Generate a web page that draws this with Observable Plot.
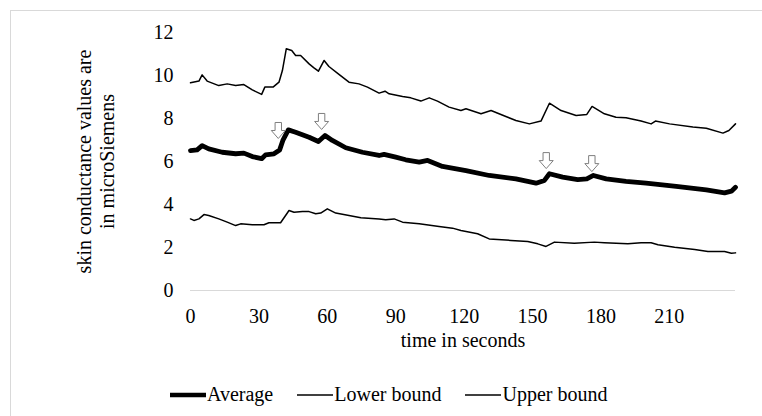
<!DOCTYPE html>
<html><head><meta charset="utf-8">
<script src="https://cdn.jsdelivr.net/npm/d3@7"></script>
<script src="https://cdn.jsdelivr.net/npm/@observablehq/plot@0.6"></script>
<style>
html,body{margin:0;padding:0;background:#fff;overflow:hidden;width:762px;height:416px}
#frame{position:absolute;left:10px;top:10px;width:900px;height:600px;border:1px solid #d9d9d9;box-sizing:border-box}
#chart{position:absolute;left:0;top:0}
#legend{position:absolute;top:383px;left:170px;display:flex;align-items:center;font-family:"Liberation Serif","Times New Roman",serif;font-size:20px;color:#000;white-space:nowrap}
.item{display:flex;align-items:center;margin-right:24px}
.sw{display:block;margin-right:1px}
</style></head><body>
<div id="frame"></div>
<div id="chart"></div>
<div id="legend"></div>
<script>
// ---- data ----
const seriesNames = ["Average", "Lower bound", "Upper bound"];
const xTicks = [0, 30, 60, 90, 120, 150, 180, 210];
const yTicks = [0, 2, 4, 6, 8, 10, 12];

const avgT = [0, 2.9, 5.1, 8, 13.9, 19.8, 23.4, 27.1, 31.2, 32.9, 36.6, 39.1, 40.5, 42.9, 46.1, 52, 56.1, 59, 62.2, 68.1, 75.4, 82.7, 84.9, 90, 94.4, 100.3, 104, 110.5, 120.8, 131, 142.7, 151.5, 155.2, 157.4, 163.2, 169.8, 173.8, 176.7, 182.3, 191, 199.8, 213, 226.2, 234.2, 237.2, 239];
const avgV = [6.51, 6.54, 6.74, 6.59, 6.43, 6.36, 6.39, 6.23, 6.13, 6.31, 6.36, 6.54, 6.98, 7.47, 7.36, 7.13, 6.93, 7.21, 6.98, 6.64, 6.43, 6.28, 6.33, 6.2, 6.08, 5.97, 6.05, 5.77, 5.58, 5.35, 5.19, 4.99, 5.12, 5.43, 5.27, 5.16, 5.19, 5.35, 5.19, 5.08, 4.99, 4.84, 4.68, 4.54, 4.62, 4.8];

const lowerT = [0, 1.5, 3.7, 5.9, 8, 12.4, 16.1, 19.8, 22, 27.1, 32.2, 34.4, 39.5, 41.7, 43.2, 45.4, 49.1, 52, 54.9, 57.1, 60, 63.7, 69.5, 74.7, 82.7, 85.6, 89.3, 93, 100.3, 109, 114.9, 118.6, 125.9, 131, 140.5, 147.9, 152.3, 155.9, 159.6, 168.3, 177.1, 181.5, 191.8, 197.6, 202, 205, 212.3, 221.1, 226.9, 234.2, 237.2, 239];
const lowerV = [3.33, 3.26, 3.33, 3.53, 3.49, 3.33, 3.18, 3.02, 3.1, 3.06, 3.06, 3.15, 3.15, 3.49, 3.72, 3.64, 3.67, 3.67, 3.57, 3.6, 3.8, 3.6, 3.49, 3.38, 3.33, 3.29, 3.33, 3.18, 3.1, 2.98, 2.9, 2.79, 2.64, 2.4, 2.33, 2.28, 2.17, 2.05, 2.25, 2.2, 2.25, 2.22, 2.17, 2.22, 2.22, 2.13, 2.01, 1.91, 1.81, 1.81, 1.73, 1.75];

const upperT = [0, 3.7, 5.1, 7.3, 12.4, 16.1, 19.8, 23.4, 27.1, 31.2, 32.6, 36.2, 38.8, 40.3, 42, 44.4, 46.1, 48.3, 52, 54, 56.1, 58.6, 60.7, 65.1, 69.5, 73.9, 77.6, 82.7, 85.3, 87.1, 93, 96.6, 101, 104.7, 108.3, 113.4, 118.6, 120.8, 127.4, 131.8, 138.3, 142.7, 148.6, 153.7, 157.4, 162.5, 169.1, 173.8, 176.1, 181.5, 186.6, 191, 197.6, 202, 203.9, 210.1, 220.3, 226.2, 233.5, 236.1, 239];
const upperV = [9.66, 9.74, 10.03, 9.74, 9.53, 9.61, 9.53, 9.58, 9.33, 9.12, 9.46, 9.46, 9.69, 10.23, 11.24, 11.16, 10.93, 10.93, 10.54, 10.37, 10.2, 10.7, 10.42, 10.05, 9.69, 9.61, 9.46, 9.18, 9.27, 9.15, 9.02, 8.96, 8.81, 8.96, 8.81, 8.53, 8.37, 8.45, 8.22, 8.37, 8.09, 7.91, 7.75, 7.88, 8.71, 8.37, 8.14, 8.19, 8.56, 8.22, 8.06, 8.03, 7.88, 7.75, 7.88, 7.75, 7.6, 7.55, 7.32, 7.44, 7.75];

// arrow markers (time, value at arrow tip)
const arrowT = [38.5, 57.5, 156, 176];
const arrowV = [7.07, 7.49, 5.67, 5.53];

const xLabel = "time in seconds";
const yLabel = "skin conductance values are\nin microSiemens";

// ---- build tables ----
const toRows = (T, V) => T.map((t, i) => ({t, v: V[i]}));
const avgRows = toRows(avgT, avgV);
const lowerRows = toRows(lowerT, lowerV);
const upperRows = toRows(upperT, upperV);
const arrowRows = toRows(arrowT, arrowV);

const arrowSymbol = {
  draw(ctx) {
    ctx.moveTo(0, 0);
    ctx.lineTo(7, -8);
    ctx.lineTo(3.2, -8);
    ctx.lineTo(3.2, -16);
    ctx.lineTo(-3.2, -16);
    ctx.lineTo(-3.2, -8);
    ctx.lineTo(-7, -8);
    ctx.closePath();
  }
};

const font = '"Liberation Serif", "Times New Roman", serif';

const chart = Plot.plot({
  width: 762,
  height: 370,
  marginLeft: 190,
  marginRight: 27,
  marginTop: 32,
  marginBottom: 80,
  style: {fontFamily: font, fontSize: "20px", color: "#000", background: "transparent"},
  x: {domain: [0, 239]},
  y: {domain: [0, 12]},
  marks: [
    Plot.ruleY([0], {stroke: "#d9d9d9", strokeWidth: 1}),
    Plot.axisX({ticks: xTicks, tickSize: 0, tickPadding: 18, label: null, tickFormat: d => String(d)}),
    Plot.axisY({ticks: yTicks, tickSize: 0, tickPadding: 17, label: null, tickFormat: d => String(d)}),
    Plot.line(lowerRows, {x: "t", y: "v", stroke: "#000", strokeWidth: 1.5}),
    Plot.line(upperRows, {x: "t", y: "v", stroke: "#000", strokeWidth: 1.5}),
    Plot.line(avgRows, {x: "t", y: "v", stroke: "#000", strokeWidth: 4.8}),
    Plot.dot(arrowRows, {x: "t", y: "v", symbol: arrowSymbol, fill: "#fff", stroke: "#7f7f7f", strokeWidth: 1, r: 8}),
    Plot.text([xLabel], {text: d => d, frameAnchor: "bottom", textAnchor: "middle", lineAnchor: "middle", dy: 50, fontSize: 20}),
    Plot.text([yLabel], {text: d => d, frameAnchor: "left", textAnchor: "middle", lineAnchor: "middle", rotate: -90, dx: -95, lineHeight: 1.15, fontSize: 20})
  ]
});
document.getElementById("chart").appendChild(chart);

// ---- legend ----
const widths = [4.5, 1.5, 1.5];
const legend = document.getElementById("legend");
seriesNames.forEach((name, i) => {
  const item = document.createElement("div");
  item.className = "item";
  item.innerHTML = `<svg class="sw" width="36" height="8"><line x1="0" x2="36" y1="4" y2="4" stroke="#000" stroke-width="${widths[i]}"/></svg><span>${name}</span>`;
  legend.appendChild(item);
});
</script></body></html>
